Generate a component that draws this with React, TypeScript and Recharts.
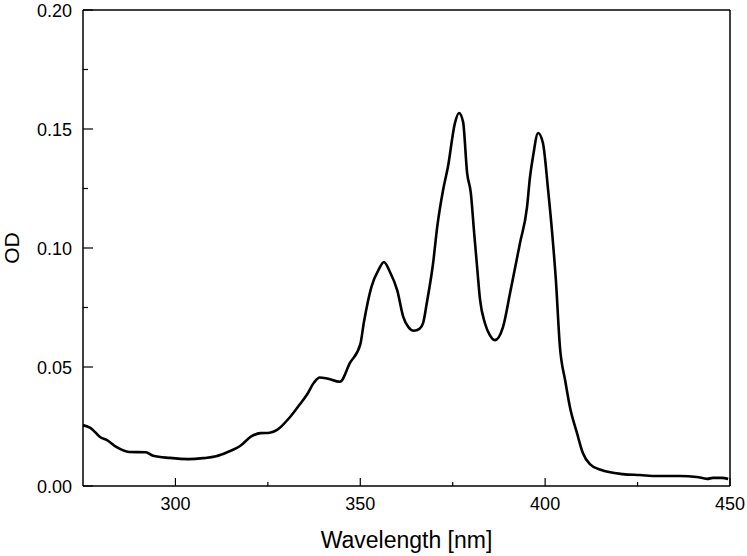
import { LineChart, Line, XAxis, YAxis, Label, ReferenceLine } from 'recharts';

// absorption spectrum
const wavelength = [
  275, 277, 280, 281.5, 284, 287.5, 292, 294, 298.5, 303.5, 307.5, 311, 314, 317.5,
  320.5, 323, 325.5, 327.5, 331, 333.5, 335.5, 337.5, 339, 341, 344.5, 347.2, 350, 351,
  353, 355, 356.4, 358, 360, 361.6, 363, 364.5, 366, 367, 368, 369.7, 370.8, 372.4,
  373.7, 375.6, 376.7, 377.8, 378.9, 379.9, 380.8, 381.6, 382.4, 383.7, 385, 386.4,
  388.6, 390.5, 393.2, 395.1, 395.9, 396.7, 398.1, 399.4, 400.8, 401.9, 402.9, 404,
  405.4, 406.7, 408.6, 410.2, 412.1, 415, 421, 425.6, 430.3, 436.5, 441, 443.8, 445.4,
  447.8, 449.5,
];
const od = [
  0.0256, 0.0244, 0.0202, 0.0193, 0.0164, 0.0143, 0.0142, 0.0127, 0.0118, 0.0113, 0.0117,
  0.0125, 0.0142, 0.0168, 0.0208, 0.0222, 0.0224, 0.0236, 0.029, 0.034, 0.0382, 0.0435,
  0.0456, 0.0452, 0.0438, 0.0517, 0.0595, 0.069, 0.0836, 0.091, 0.0941, 0.09, 0.0822,
  0.0712, 0.0668, 0.0652, 0.066, 0.0685, 0.077, 0.0937, 0.1088, 0.1244, 0.134, 0.1525,
  0.1567, 0.153, 0.1315, 0.1231, 0.1063, 0.092, 0.0782, 0.0685, 0.0635, 0.0613, 0.0668,
  0.081, 0.1021, 0.1172, 0.1298, 0.1382, 0.1483, 0.1441, 0.1244, 0.1063, 0.0866, 0.0584,
  0.0445, 0.0332, 0.0223, 0.0139, 0.0092, 0.0068, 0.005, 0.0046, 0.0042, 0.0042, 0.0038,
  0.003, 0.0034, 0.0034, 0.003,
];

// every 25 nm / 0.025 OD; multiples of 50 / 0.05 get a label
const xTicks = [275, 300, 325, 350, 375, 400, 425, 450];
const yTicks = [0, 0.025, 0.05, 0.075, 0.1, 0.125, 0.15, 0.175, 0.2];

const data = wavelength.map((w, i) => ({ w, od: od[i] }));

const font = '"Liberation Sans", Arial, sans-serif';
const X_MARGIN = 19;
const Y_MARGIN = 11;

function XTick(props: any) {
  const { x, y, payload } = props;
  const v = payload.value;
  const major = v % 50 === 0;
  const axisY = y - X_MARGIN;
  if (v === 275) return null;
  return (
    <g>
      <line x1={x} x2={x} y1={axisY} y2={axisY - (major ? 8 : 4)} stroke="#000" strokeWidth={1.2} />
      {major && (
        <text x={x} y={y} dy={4.5} textAnchor="middle" fontSize={18} fontFamily={font} fill="#000">
          {v}
        </text>
      )}
    </g>
  );
}

function YTick(props: any) {
  const { x, y, payload } = props;
  const v = payload.value;
  const major = Math.round(v * 1000) % 50 === 0;
  const axisX = x + Y_MARGIN;
  return (
    <g>
      <line x1={axisX} x2={axisX + (major ? 10 : 5)} y1={y} y2={y} stroke="#000" strokeWidth={1.2} />
      {major && (
        <text x={x} y={y} dy={6.5} textAnchor="end" fontSize={18} fontFamily={font} fill="#000">
          {v.toFixed(2)}
        </text>
      )}
    </g>
  );
}

export default function App() {
  return (
    <div style={{ position: 'absolute', left: 0, top: 0, background: '#fff' }}>
      <LineChart width={747} height={556} data={data} margin={{ top: 10, right: 17, bottom: 0, left: 0 }}>
        <XAxis
          dataKey="w"
          type="number"
          domain={[275, 450]}
          allowDataOverflow
          ticks={xTicks}
          interval={0}
          tickSize={0}
          tickMargin={X_MARGIN}
          tick={<XTick />}
          tickLine={false}
          axisLine={{ stroke: '#000', strokeWidth: 1.5 }}
          height={70}
        >
          <Label value="Wavelength [nm]" position="insideBottom" offset={8} style={{ fontSize: 23, fill: '#000', fontFamily: font }} />
        </XAxis>
        <YAxis
          type="number"
          domain={[0, 0.2]}
          ticks={yTicks}
          interval={0}
          tickSize={0}
          tickMargin={Y_MARGIN}
          tick={<YTick />}
          tickLine={false}
          axisLine={{ stroke: '#000', strokeWidth: 1.5 }}
          width={83}
        >
          <Label value="OD" position="insideLeft" angle={-90} offset={12} style={{ fontSize: 21, fill: '#000', fontFamily: font, textAnchor: 'middle' }} />
        </YAxis>
        <ReferenceLine y={0.2} stroke="#000" strokeWidth={1.5} />
        <ReferenceLine x={450} stroke="#000" strokeWidth={1.5} />
        <Line dataKey="od" type="monotone" stroke="#000" strokeWidth={2.6} dot={false} isAnimationActive={false} />
      </LineChart>
    </div>
  );
}
